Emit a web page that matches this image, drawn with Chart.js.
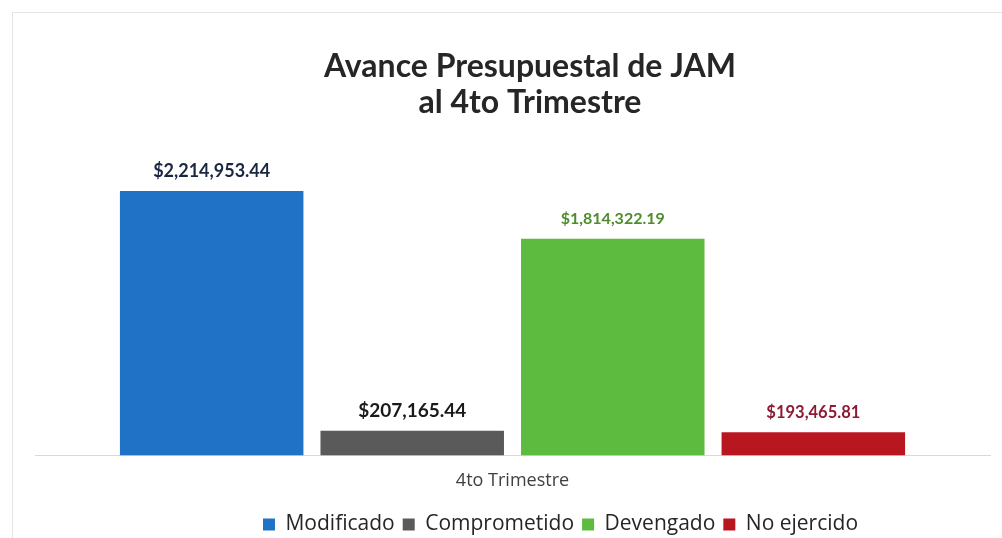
<!DOCTYPE html>
<html>
<head>
<meta charset="utf-8">
<script src="https://cdn.jsdelivr.net/npm/chart.js@4.4.0/dist/chart.umd.min.js"></script>
<style>
  html, body { margin: 0; padding: 0; background: #fff; }
  #wrap { position: relative; width: 1002px; height: 538px; }
  #frame { position: absolute; left: 12px; top: 12px; width: 1000px; height: 540px;
           border-left: 1px solid #e4e4e4; border-top: 1px solid #e4e4e4; }
  canvas { position: absolute; left: 0; top: 0; }
</style>
</head>
<body>
<div id="wrap">
  <div id="frame"></div>
  <canvas id="budgetChart" width="1002" height="538"></canvas>
</div>
<script>
// Datos del reporte
var categories = ['4to Trimestre'];
var seriesNames = ['Modificado', 'Comprometido', 'Devengado', 'No ejercido'];
var modificado = [2214953.44];
var comprometido = [207165.44];
var devengado = [1814322.19];
var noEjercido = [193465.81];
var titleLines = ['Avance Presupuestal de JAM', 'al 4to Trimestre'];

var barColors = ['#1f72c6', '#5a5a5a', '#5dbb3f', '#b8171f'];
var labelColors = ['#1b2740', '#1a1a1a', '#4e8c2c', '#8c1a33'];
var labelSizes = [18, 19, 16, 16.5];

function money(v) {
    return '$' + v.toLocaleString('en-US', { minimumFractionDigits: 2, maximumFractionDigits: 2 });
}

// titulo (va un poco a la derecha del centro, como en el original)
var titlePlugin = {
    id: 'titlePlugin',
    afterDraw: function (chart) {
        var ctx = chart.ctx;
        ctx.save();
        ctx.textAlign = 'center';
        ctx.textBaseline = 'alphabetic';
        ctx.fillStyle = '#262626';
        ctx.font = 'bold 32px Lato, "Open Sans", sans-serif';
        ctx.fillText(titleLines[0], 530, 77);
        ctx.fillText(titleLines[1], 530, 113);
        ctx.restore();
    }
};

// la leyenda del original esta corrida a la derecha y un poco abajo
var legendShift = {
    id: 'legendShift',
    afterLayout: function (chart) {
        var lg = chart.legend;
        lg.left += 48;
        lg.right += 48;
        lg.top += 7;
        lg.bottom += 7;
    }
};

// etiquetas encima de cada barra
var valueLabels = {
    id: 'valueLabels',
    afterDatasetsDraw: function (chart) {
        var ctx = chart.ctx;
        ctx.save();
        ctx.textAlign = 'center';
        ctx.textBaseline = 'middle';
        chart.data.datasets.forEach(function (ds, i) {
            var meta = chart.getDatasetMeta(i);
            meta.data.forEach(function (bar, j) {
                ctx.font = 'bold ' + labelSizes[i] + 'px Lato, "Open Sans", sans-serif';
                ctx.fillStyle = labelColors[i];
                ctx.fillText(money(ds.data[j]), bar.x, bar.y - 20);
            });
        });
        ctx.restore();
    }
};

var ctx = document.getElementById('budgetChart').getContext('2d');
var datasets = [modificado, comprometido, devengado, noEjercido].map(function (vals, i) {
    return {
        label: seriesNames[i],
        data: vals,
        backgroundColor: barColors[i],
        borderWidth: 0,
        categoryPercentage: 0.84,
        barPercentage: 0.915
    };
});

new Chart(ctx, {
    type: 'bar',
    data: { labels: categories, datasets: datasets },
    plugins: [valueLabels, titlePlugin, legendShift],
    options: {
        responsive: false,
        animation: false,
        layout: { padding: { top: 145, left: 35, right: 12, bottom: 0 } },
        plugins: {
            title: { display: false },
            legend: {
                position: 'bottom',
                labels: {
                    color: '#262626',
                    boxWidth: 12,
                    boxHeight: 12,
                    padding: 8,
                    font: { family: '"Open Sans", sans-serif', size: 21 }
                }
            },
            tooltip: { enabled: false }
        },
        scales: {
            x: {
                grid: { display: false },
                border: { display: true, color: '#d9d9d9', width: 1 },
                ticks: { color: '#404040', font: { family: '"Open Sans", sans-serif', size: 18 }, padding: 7 }
            },
            y: {
                display: false,
                min: 0,
                max: 2600000
            }
        }
    }
});
</script>
</body>
</html>
